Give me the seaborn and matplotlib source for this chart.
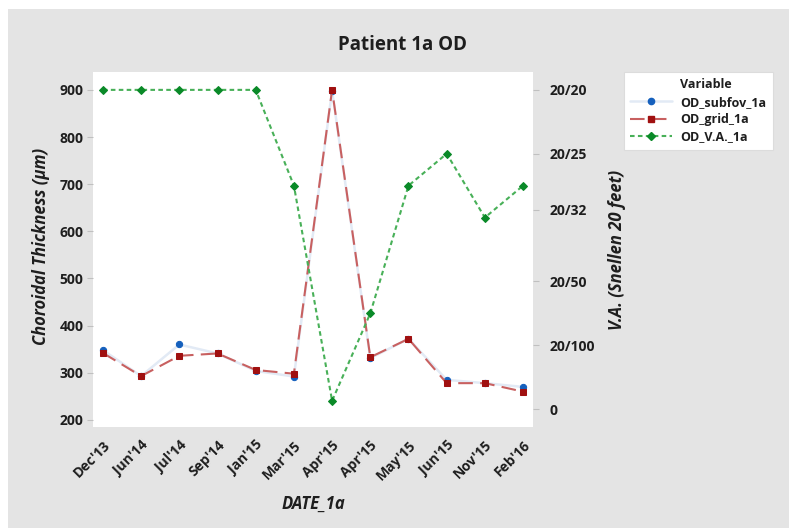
import matplotlib
matplotlib.use("Agg")
import matplotlib.pyplot as plt
from matplotlib.patches import Rectangle
from matplotlib.lines import Line2D
import seaborn as sns
import numpy as np

# --- data -------------------------------------------------------------
dates = ["Dec'13", "Jun'14", "Jul'14", "Sep'14", "Jan'15", "Mar'15",
         "Apr'15", "Apr'15", "May'15", "Jun'15", "Nov'15", "Feb'16"]
od_subfov = [348, 293, 360, 341, 304, 292, 898, 331, 372, 285, 278, 270]
od_grid = [342, 293, 336, 341, 306, 298, 900, 333, 372, 278, 278, 260]
# visual acuity in decimal form (20/20 = 1.0)
od_va = [1.0, 1.0, 1.0, 1.0, 1.0, 0.70, 0.026, 0.30, 0.70, 0.80, 0.60, 0.70]

left_ticks = [200, 300, 400, 500, 600, 700, 800, 900]
va_ticks = [0.0, 0.2, 0.4, 0.625, 0.8, 1.0]
va_tick_labels = ["0", "20/100", "20/50", "20/32", "20/25", "20/20"]

# --- style ------------------------------------------------------------
sns.set_style("white")
plt.rcParams["font.family"] = ["Open Sans", "DejaVu Sans"]
plt.rcParams["font.weight"] = "bold"

W, H = 789, 528
fig = plt.figure(figsize=(W / 100, H / 100), dpi=100, facecolor="white")
fig.patches.append(Rectangle((8 / W, -0.01), 1.01, 1.01 - 9 / H,
                             transform=fig.transFigure, facecolor="#e4e4e4",
                             edgecolor="none", zorder=-10))

ax = fig.add_axes([93 / W, 1 - 427 / H, 440 / W, 355 / H])
ax.set_facecolor("white")
ax2 = ax.twinx()

x = np.arange(len(dates))

c_blue_line = "#e2eaf5"
c_blue = "#1560bd"
c_red_line = "#c86060"
c_red = "#a01010"
c_green_line = "#48b058"
c_green = "#0a8a28"

red_dash = (0, (7, 3.5))
green_dash = (0, (2.2, 1.6))

sns.lineplot(x=x, y=od_subfov, ax=ax, color=c_blue_line, linewidth=1.8,
             marker="o", markersize=4.5, markerfacecolor=c_blue,
             markeredgecolor=c_blue, sort=False, zorder=3)
sns.lineplot(x=x, y=od_grid, ax=ax, color=c_red_line, linewidth=1.5,
             marker="s", markersize=4.5, markerfacecolor=c_red,
             markeredgecolor=c_red, sort=False, zorder=4,
             linestyle=red_dash)
sns.lineplot(x=x, y=od_va, ax=ax2, color=c_green_line, linewidth=1.5,
             marker="D", markersize=4.2, markerfacecolor=c_green,
             markeredgecolor=c_green, sort=False, zorder=4,
             linestyle=green_dash)

ax.set_xlim(-0.26, 11.26)
ax.set_ylim(185, 938)
ax2.set_ylim(-0.056, 1.056)

ax.set_xticks(x)
ax.set_xticklabels(dates, rotation=45, ha="right", rotation_mode="anchor")
ax.set_yticks(left_ticks)
ax.set_yticklabels([str(v) for v in left_ticks])
ax2.set_yticks(va_ticks)
ax2.set_yticklabels(va_tick_labels)

tick_kw = dict(colors="#c0c0c0", labelcolor="#1e1e1e", labelsize=10, length=4, width=0.8)
ax.tick_params(axis="x", pad=4, **tick_kw)
ax.tick_params(axis="y", left=True, pad=3, **tick_kw)
ax2.tick_params(axis="y", right=True, pad=8, **tick_kw)
for a in (ax, ax2):
    for lbl in a.get_xticklabels() + a.get_yticklabels():
        lbl.set_fontweight("bold")
    for s in a.spines.values():
        s.set_visible(False)

ax.set_xlabel("")
ax.set_ylabel("")
ax2.set_ylabel("")

fig.text(403 / W, 1 - 45 / H, "Patient 1a OD", ha="center", va="center",
         fontsize=13.5, fontweight="bold", color="#1e1e1e")
fig.text(313 / W, 1 - 504 / H, "DATE_1a", ha="center", va="center",
         fontsize=12, fontweight="bold", fontstyle="italic", color="#1e1e1e")
fig.text(41 / W, 1 - 246 / H, "Choroidal Thickness (\u03bcm)", ha="center",
         va="center", rotation=90, fontsize=12, fontweight="bold",
         fontstyle="italic", color="#1e1e1e")
fig.text(617 / W, 1 - 250 / H, "V.A. (Snellen 20 feet)", ha="center",
         va="center", rotation=90, fontsize=12, fontweight="bold",
         fontstyle="italic", color="#1e1e1e")

handles = [
    Line2D([], [], linestyle="none", label="Variable"),
    Line2D([], [], color=c_blue_line, linewidth=1.8, marker="o", markersize=4.5,
           markerfacecolor=c_blue, markeredgecolor=c_blue, label="OD_subfov_1a"),
    Line2D([], [], color=c_red_line, linewidth=1.5, linestyle=red_dash,
           marker="s", markersize=4.5, markerfacecolor=c_red,
           markeredgecolor=c_red, label="OD_grid_1a"),
    Line2D([], [], color=c_green_line, linewidth=1.5, linestyle=green_dash,
           marker="D", markersize=4.2, markerfacecolor=c_green,
           markeredgecolor=c_green, label="OD_V.A._1a"),
]
leg = fig.legend(handles=handles, loc="upper left",
                 bbox_to_anchor=(624 / W, 1 - 72 / H), frameon=True,
                 fancybox=False, framealpha=1, edgecolor="#dcdcdc",
                 prop=dict(size=9, weight="bold"), handlelength=3.3,
                 handletextpad=0.7, labelspacing=0.35, borderpad=0.5,
                 borderaxespad=0)
leg.get_frame().set_linewidth(0.8)
for t in leg.get_texts():
    t.set_color("#1e1e1e")

fig.savefig("out.png", dpi=100, facecolor=fig.get_facecolor())
